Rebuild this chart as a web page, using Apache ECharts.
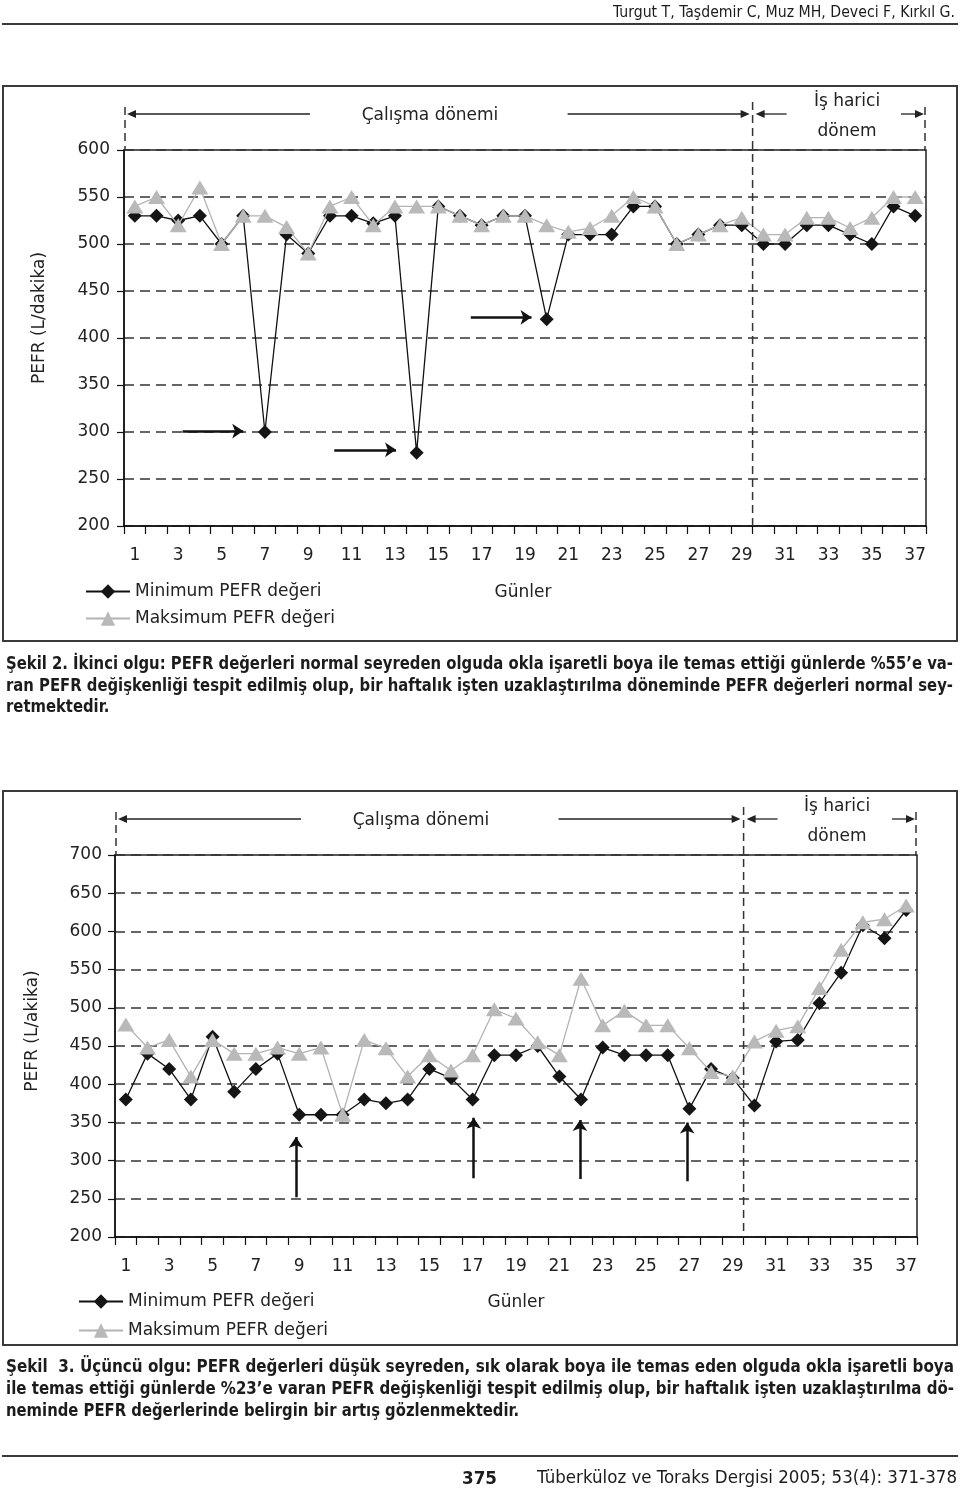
<!DOCTYPE html>
<html><head><meta charset="utf-8">
<script src="https://cdn.jsdelivr.net/npm/echarts@6/dist/echarts.min.js"></script>
<style>
html,body{margin:0;padding:0;background:#fff;}
#page{position:relative;width:960px;height:1491px;overflow:hidden;background:#fff;}
#chart{position:absolute;left:0;top:0;width:960px;height:1491px;}
.t{position:absolute;white-space:nowrap;color:#1c1c1c;font-family:"Liberation Sans Narrow","DejaVu Sans Condensed","Liberation Sans",Arial,sans-serif;transform-origin:0 50%;}
.cap{font-size:18px;line-height:18px;font-weight:bold;}
.rule{position:absolute;left:2px;width:956px;height:2px;background:#3a3a3a;}
</style></head>
<body><div id="page">
<div id="chart"></div>
<div class="t" style="top:5px;font-size:15px;line-height:15px;" data-w="342" data-r="955" data-s="1">Turgut T, Taşdemir C, Muz MH, Deveci F, Kırkıl G.</div>
<div class="rule" style="top:23px;"></div>
<div class="t cap" style="left:6px;top:654px;" data-w="947" data-j="1">Şekil 2. İkinci olgu: PEFR değerleri normal seyreden olguda okla işaretli boya ile temas ettiği günlerde %55’e va-</div>
<div class="t cap" style="left:6px;top:676px;" data-w="947" data-j="1">ran PEFR değişkenliği tespit edilmiş olup, bir haftalık işten uzaklaştırılma döneminde PEFR değerleri normal sey-</div>
<div class="t cap" style="left:6px;top:697px;" data-m="1">retmektedir.</div>
<div class="t cap" style="left:6px;top:1357px;" data-w="948" data-j="1">Şekil&nbsp; 3. Üçüncü olgu: PEFR değerleri düşük seyreden, sık olarak boya ile temas eden olguda okla işaretli boya</div>
<div class="t cap" style="left:6px;top:1379px;" data-w="948" data-j="1">ile temas ettiği günlerde %23’e varan PEFR değişkenliği tespit edilmiş olup, bir haftalık işten uzaklaştırılma dö-</div>
<div class="t cap" style="left:6px;top:1401px;" data-m="1">neminde PEFR değerlerinde belirgin bir artış gözlenmektedir.</div>
<div class="rule" style="top:1455px;"></div>
<div class="t" style="left:462px;top:1469px;font-size:18px;line-height:18px;font-weight:bold;" data-w="35" data-s="1">375</div>
<div class="t" style="left:537px;top:1469px;font-size:17px;line-height:17px;" data-w="420" data-s="1">Tüberküloz ve Toraks Dergisi 2005; 53(4): 371-378</div>
</div>
<script>
// ---------- data ----------
const days = ['1','2','3','4','5','6','7','8','9','10','11','12','13','14','15','16','17','18','19','20','21','22','23','24','25','26','27','28','29','30','31','32','33','34','35','36','37'];
const seriesNames = ['Minimum PEFR değeri', 'Maksimum PEFR değeri'];
// Şekil 2 (ikinci olgu)
const minPefr1 = [530,530,525,530,500,530,300,510,490,530,530,522,530,278,540,530,520,530,530,420,510,510,510,540,540,500,510,520,520,500,500,520,520,510,500,540,530];
const maxPefr1 = [540,550,520,560,500,530,530,518,490,540,550,520,540,540,540,530,520,530,530,520,513,517,530,550,540,500,510,520,528,510,510,528,528,517,528,550,550];
// Şekil 3 (üçüncü olgu)
const minPefr2 = [380,440,420,380,462,390,420,440,360,360,360,380,375,380,420,408,380,438,438,450,410,380,448,438,438,438,368,420,408,372,456,458,506,546,608,591,628];
const maxPefr2 = [478,448,458,410,458,440,440,448,440,448,360,458,447,410,438,418,438,498,486,455,438,538,477,496,477,477,447,416,410,456,470,476,526,576,612,616,634];
// y ticks
const yRange1 = [200, 600, 50];
const yRange2 = [200, 700, 50];
// annotation arrows (day position, PEFR value)
const arrows1 = [[[3.2,301],[6.0,301]], [[10.2,281],[13.05,281]], [[16.5,422],[19.3,422]]];
const arrows2 = [[[8.85,252],[8.85,331]], [[17.05,277],[17.05,356]], [[21.95,276],[21.95,353]], [[26.9,273],[26.9,350]]];
// period boundaries (in day units)
const periodBounds = [0.5, 29.5, 37.5];
const texts = {
  work: 'Çalışma dönemi', off1: 'İş harici', off2: 'dönem', xName: 'Günler',
  yName1: 'PEFR (L/dakika)', yName2: 'PEFR (L/akika)'
};

// ---------- chart ----------
const FONT = 'DejaVu Sans';
const chart = echarts.init(document.getElementById('chart'), null, {renderer: 'canvas'});

function xCat(g){ return {
  type:'category', gridIndex:g, data:days, boundaryGap:true,
  axisLine:{show:true, lineStyle:{color:'#111', width:1.5}},
  axisTick:{show:true, interval:0, length:8, alignWithLabel:false, lineStyle:{color:'#111', width:1.2}},
  axisLabel:{interval:1, margin:21, fontSize:17, color:'#222', fontFamily:FONT},
  splitLine:{show:false}
};}
function xVal(g){ return {type:'value', gridIndex:g, min:periodBounds[0], max:periodBounds[2], show:false}; }
function yAx(g, r, margin){ return {
  type:'value', gridIndex:g, min:r[0], max:r[1], interval:r[2],
  axisLine:{show:true, lineStyle:{color:'#111', width:1.5}},
  axisTick:{show:true, length:7, lineStyle:{color:'#111', width:1.2}},
  axisLabel:{margin:margin, fontSize:17, color:'#222', fontFamily:FONT},
  splitLine:{show:true, lineStyle:{type:[10,6], color:'#333', width:1.5}}
};}
function minSeries(xi, yi, data){ return {
  name:seriesNames[0], type:'line', xAxisIndex:xi, yAxisIndex:yi, data:data,
  symbol:'diamond', symbolSize:14, z:2,
  lineStyle:{color:'#111', width:1.3}, itemStyle:{color:'#151515'}
};}
function maxSeries(xi, yi, data){ return {
  name:seriesNames[1], type:'line', xAxisIndex:xi, yAxisIndex:yi, data:data,
  symbol:'triangle', symbolSize:[17,14], z:3,
  lineStyle:{color:'#b3b3b3', width:1.3}, itemStyle:{color:'#b9b9b9'}
};}
function arrowSeries(xi, yi, arr){ return {
  type:'lines', coordinateSystem:'cartesian2d', xAxisIndex:xi, yAxisIndex:yi,
  symbol:['none','arrow'], symbolSize:11, z:4, silent:true,
  lineStyle:{color:'#111', width:2.5, opacity:1},
  data: arr.map(c => ({coords:c}))
};}
function legend(left, top, gap){ return {
  orient:'vertical', left:left, top:top, itemWidth:44, itemHeight:18, itemGap:gap,
  selectedMode:false, data:seriesNames,
  textStyle:{fontSize:17, color:'#222', fontFamily:FONT}
};}

chart.setOption({
  animation:false,
  grid:[
    {left:124, top:150, width:802, height:376, show:true, borderColor:'#222', borderWidth:1.5, backgroundColor:'transparent'},
    {left:115, top:855, width:802, height:382, show:true, borderColor:'#222', borderWidth:1.5, backgroundColor:'transparent'}
  ],
  xAxis:[xCat(0), xVal(0), xCat(1), xVal(1)],
  yAxis:[yAx(0, yRange1, 14), yAx(1, yRange2, 13)],
  legend:[legend(80, 578, 10), legend(73, 1288, 12)],
  series:[
    minSeries(0,0,minPefr1), maxSeries(0,0,maxPefr1), arrowSeries(1,0,arrows1),
    minSeries(2,1,minPefr2), maxSeries(2,1,maxPefr2), arrowSeries(3,1,arrows2)
  ]
});

// ---------- annotations (positions from the axes) ----------
function px(axisIdx, v){ return chart.convertToPixel({xAxisIndex:axisIdx}, v); }
function dashedV(x, y1, y2){ return {type:'line', shape:{x1:x, y1:y1, x2:x, y2:y2}, style:{stroke:'#333', lineWidth:1.5, lineDash:[8,5]}, z:5}; }
function arrowH(x1, x2, y){
  const dir = x2 > x1 ? 1 : -1;
  return [
    {type:'line', shape:{x1:x1, y1:y, x2:x2 - dir*6, y2:y}, style:{stroke:'#222', lineWidth:1.3}, z:5},
    {type:'polygon', shape:{points:[[x2,y],[x2-dir*9,y-4],[x2-dir*9,y+4]]}, style:{fill:'#222'}, z:5}
  ];
}
function label(x, y, text, size){ return {type:'text', x:x, y:y, z:5, style:{text:text, font:(size||17)+'px "'+FONT+'"', fill:'#222', align:'center', verticalAlign:'middle'}}; }
function yName(x, y, text){ return {type:'text', x:x, y:y, rotation:Math.PI/2, z:5, style:{text:text, font:'17px "'+FONT+'"', fill:'#222', align:'center', verticalAlign:'middle'}}; }

function header(ax, top, bottom, o){
  const xL = px(ax, periodBounds[0]), xS = px(ax, periodBounds[1]), xR = px(ax, periodBounds[2]);
  return [].concat(
    dashedV(xL+1, top-43, top),
    arrowH(xL+186, xL+3, top-36),
    label(o.workX, top-34, texts.work),
    arrowH(xS-185, xS-3, top-36),
    dashedV(xS, top-48, bottom),
    arrowH(xS+34, xS+3, top-36),
    label(o.offX, top-48, texts.off1),
    label(o.offX, top-18, texts.off2),
    arrowH(xR-25, xR-2, top-36),
    dashedV(xR-1, top-43, top)
  );
}

const graphics = [].concat(
  [{type:'rect', shape:{x:3, y:86, width:954, height:555}, style:{fill:null, stroke:'#3a3a3a', lineWidth:2}, z:1},
   {type:'rect', shape:{x:3, y:791, width:954, height:554}, style:{fill:null, stroke:'#3a3a3a', lineWidth:2}, z:1}],
  header(1, 150, 526, {workX:430, offX:847}),
  header(3, 855, 1237, {workX:421, offX:837}),
  [label(523, 593, texts.xName), label(516, 1303, texts.xName),
   yName(40, 318, texts.yName1), yName(33, 1031, texts.yName2)]
);
chart.setOption({graphic: graphics});

// ---------- fit text lines ----------
let capScale = 1;
document.querySelectorAll('.t').forEach(el => {
  const w = +el.dataset.w; if (!w) return;
  const nat = el.getBoundingClientRect().width;
  let finalW = nat;
  if (el.dataset.j && nat < w) {
    const spaces = (el.textContent.match(/[ \u00a0]/g) || []).length;
    el.style.wordSpacing = ((w - nat) / spaces) + 'px';
    finalW = w;
  } else if (el.dataset.s || nat > w) {
    el.style.transform = 'scaleX(' + (w / nat) + ')';
    if (el.dataset.j) capScale = Math.min(capScale, w / nat);
    finalW = w;
  }
  if (el.dataset.r) el.style.left = (+el.dataset.r - finalW) + 'px';
});
document.querySelectorAll('.t[data-m]').forEach(el => {
  if (capScale < 1) el.style.transform = 'scaleX(' + capScale + ')';
});
</script>
</body></html>
